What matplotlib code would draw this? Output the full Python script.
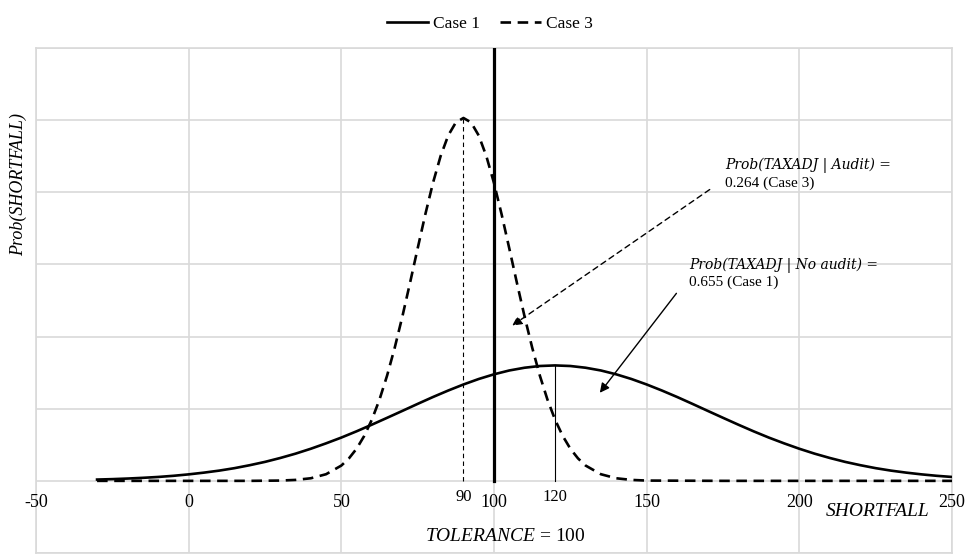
import matplotlib.pyplot as plt

plt.rcParams['mathtext.fontset'] = 'custom'
plt.rcParams['mathtext.it'] = 'Liberation Serif:italic'
plt.rcParams['mathtext.rm'] = 'Liberation Serif'

# values (y in gridline units)
case1_x = list(range(-30, 255, 5))
case1_y = [0.018, 0.024, 0.032, 0.042, 0.054, 0.070, 0.090, 0.114, 0.142, 0.176,
           0.217, 0.263, 0.317, 0.377, 0.445, 0.520, 0.600, 0.687, 0.779, 0.874,
           0.970, 1.067, 1.162, 1.252, 1.336, 1.412, 1.477, 1.530, 1.568, 1.592,
           1.600,
           1.592, 1.568, 1.530, 1.477, 1.412, 1.336, 1.252, 1.162, 1.067, 0.970,
           0.874, 0.779, 0.687, 0.600, 0.520, 0.445, 0.377, 0.317, 0.263, 0.217,
           0.176, 0.142, 0.114, 0.090, 0.070, 0.054]

case3_x = [-30, -20, -10, 0, 10, 20, 30, 35, 40, 45, 50, 52.5, 55, 57.5, 60,
           62.5, 65, 67.5, 70, 72.5, 75, 77.5, 80, 82.5, 85, 87.5, 90,
           92.5, 95, 97.5, 100, 102.5, 105, 107.5, 110, 112.5, 115, 117.5,
           120, 122.5, 125, 127.5, 130, 135, 140, 145, 150, 175, 200, 225, 250]
case3_y = [0, 0, 0, 0, 0, 0, 0.004, 0.013, 0.036, 0.092, 0.212, 0.312, 0.446, 0.623, 0.848,
           1.127, 1.461, 1.848, 2.280, 2.745, 3.223, 3.693, 4.128, 4.500, 4.787, 4.968, 5.03,
           4.968, 4.787, 4.500, 4.128, 3.693, 3.223, 2.745, 2.280, 1.848, 1.461, 1.127,
           0.848, 0.623, 0.446, 0.312, 0.212, 0.092, 0.036, 0.013, 0.004, 0, 0, 0, 0]

xticks = [-50, 0, 50, 100, 150, 200, 250]
tolerance = 100
mean3 = 90
mean1 = 120
peak3 = 5.03
peak1 = 1.60

serif = 'Liberation Serif'
grid_c = '#d9d9d9'

fig = plt.figure(figsize=(9.74, 5.55), dpi=100)
ax = fig.add_axes([36/974, 2/555, 916/974, 505/555])

ax.set_xlim(-50, 250)
ax.set_ylim(-1, 6)
ax.set_xticks(xticks)
ax.set_yticks(range(-1, 7))
ax.tick_params(length=0, labelbottom=False, labelleft=False)
ax.grid(True, color=grid_c, lw=1.2)
for s in ax.spines.values():
    s.set_color(grid_c)
    s.set_linewidth(1.2)

ax.plot(case1_x, case1_y, color='black', lw=1.9, label='Case 1', zorder=3,
        solid_joinstyle='round')
ax.plot(case3_x, case3_y, color='black', lw=1.9, dashes=(4, 2.5), label='Case 3', zorder=3)

ax.plot([tolerance, tolerance], [0, 6], color='black', lw=2.3, zorder=4)
ax.plot([mean3, mean3], [0, peak3], color='black', lw=0.8, dashes=(4, 3), zorder=2)
ax.plot([mean1, mean1], [0, peak1], color='black', lw=0.8, zorder=2)

for t in xticks:
    ax.text(t, -0.30, str(t), ha='center', va='center', fontsize=13, family=serif)
ax.text(mean3, -0.22, '90', ha='center', va='center', fontsize=12, family=serif)
ax.text(mean1, -0.22, '120', ha='center', va='center', fontsize=12, family=serif)
ax.text(225.5, -0.43, 'SHORTFALL', ha='center', va='center', fontsize=14,
        family=serif, style='italic')
ax.text(103.8, -0.77, r'$TOLERANCE$ = 100', ha='center', va='center', fontsize=14,
        family=serif)

fig.text(18/974, (555-184)/555, 'Prob(SHORTFALL)', rotation=90, ha='center', va='center',
         fontsize=13, family=serif, style='italic')

# annotations
mfont = dict(family='DejaVu Serif', style='italic', fontsize=10)
ax.text(175.7, 4.38, 'Prob(TAXADJ | Audit) =', ha='left', va='center', **mfont)
ax.text(175.7, 4.13, '0.264 (Case 3)', ha='left', va='center', fontsize=11, family=serif)
ax.annotate('', xy=(105.2, 2.13), xytext=(171.4, 4.06),
            arrowprops=dict(arrowstyle='-|>', color='black', lw=1.0, ls=(0, (4, 3)),
                            mutation_scale=14))
ax.text(163.9, 2.99, 'Prob(TAXADJ | No audit) =', ha='left', va='center', **mfont)
ax.text(163.9, 2.75, '0.655 (Case 1)', ha='left', va='center', fontsize=11, family=serif)
ax.annotate('', xy=(134.1, 1.19), xytext=(160.3, 2.63),
            arrowprops=dict(arrowstyle='-|>', color='black', lw=1.0, mutation_scale=14))

fig.legend(loc='upper center', bbox_to_anchor=(0.503, 1.0), ncol=2, frameon=False,
           prop={'family': serif, 'size': 12.5}, handlelength=2.4, handletextpad=0.3,
           columnspacing=1.1)

plt.savefig('out.png', dpi=100)
